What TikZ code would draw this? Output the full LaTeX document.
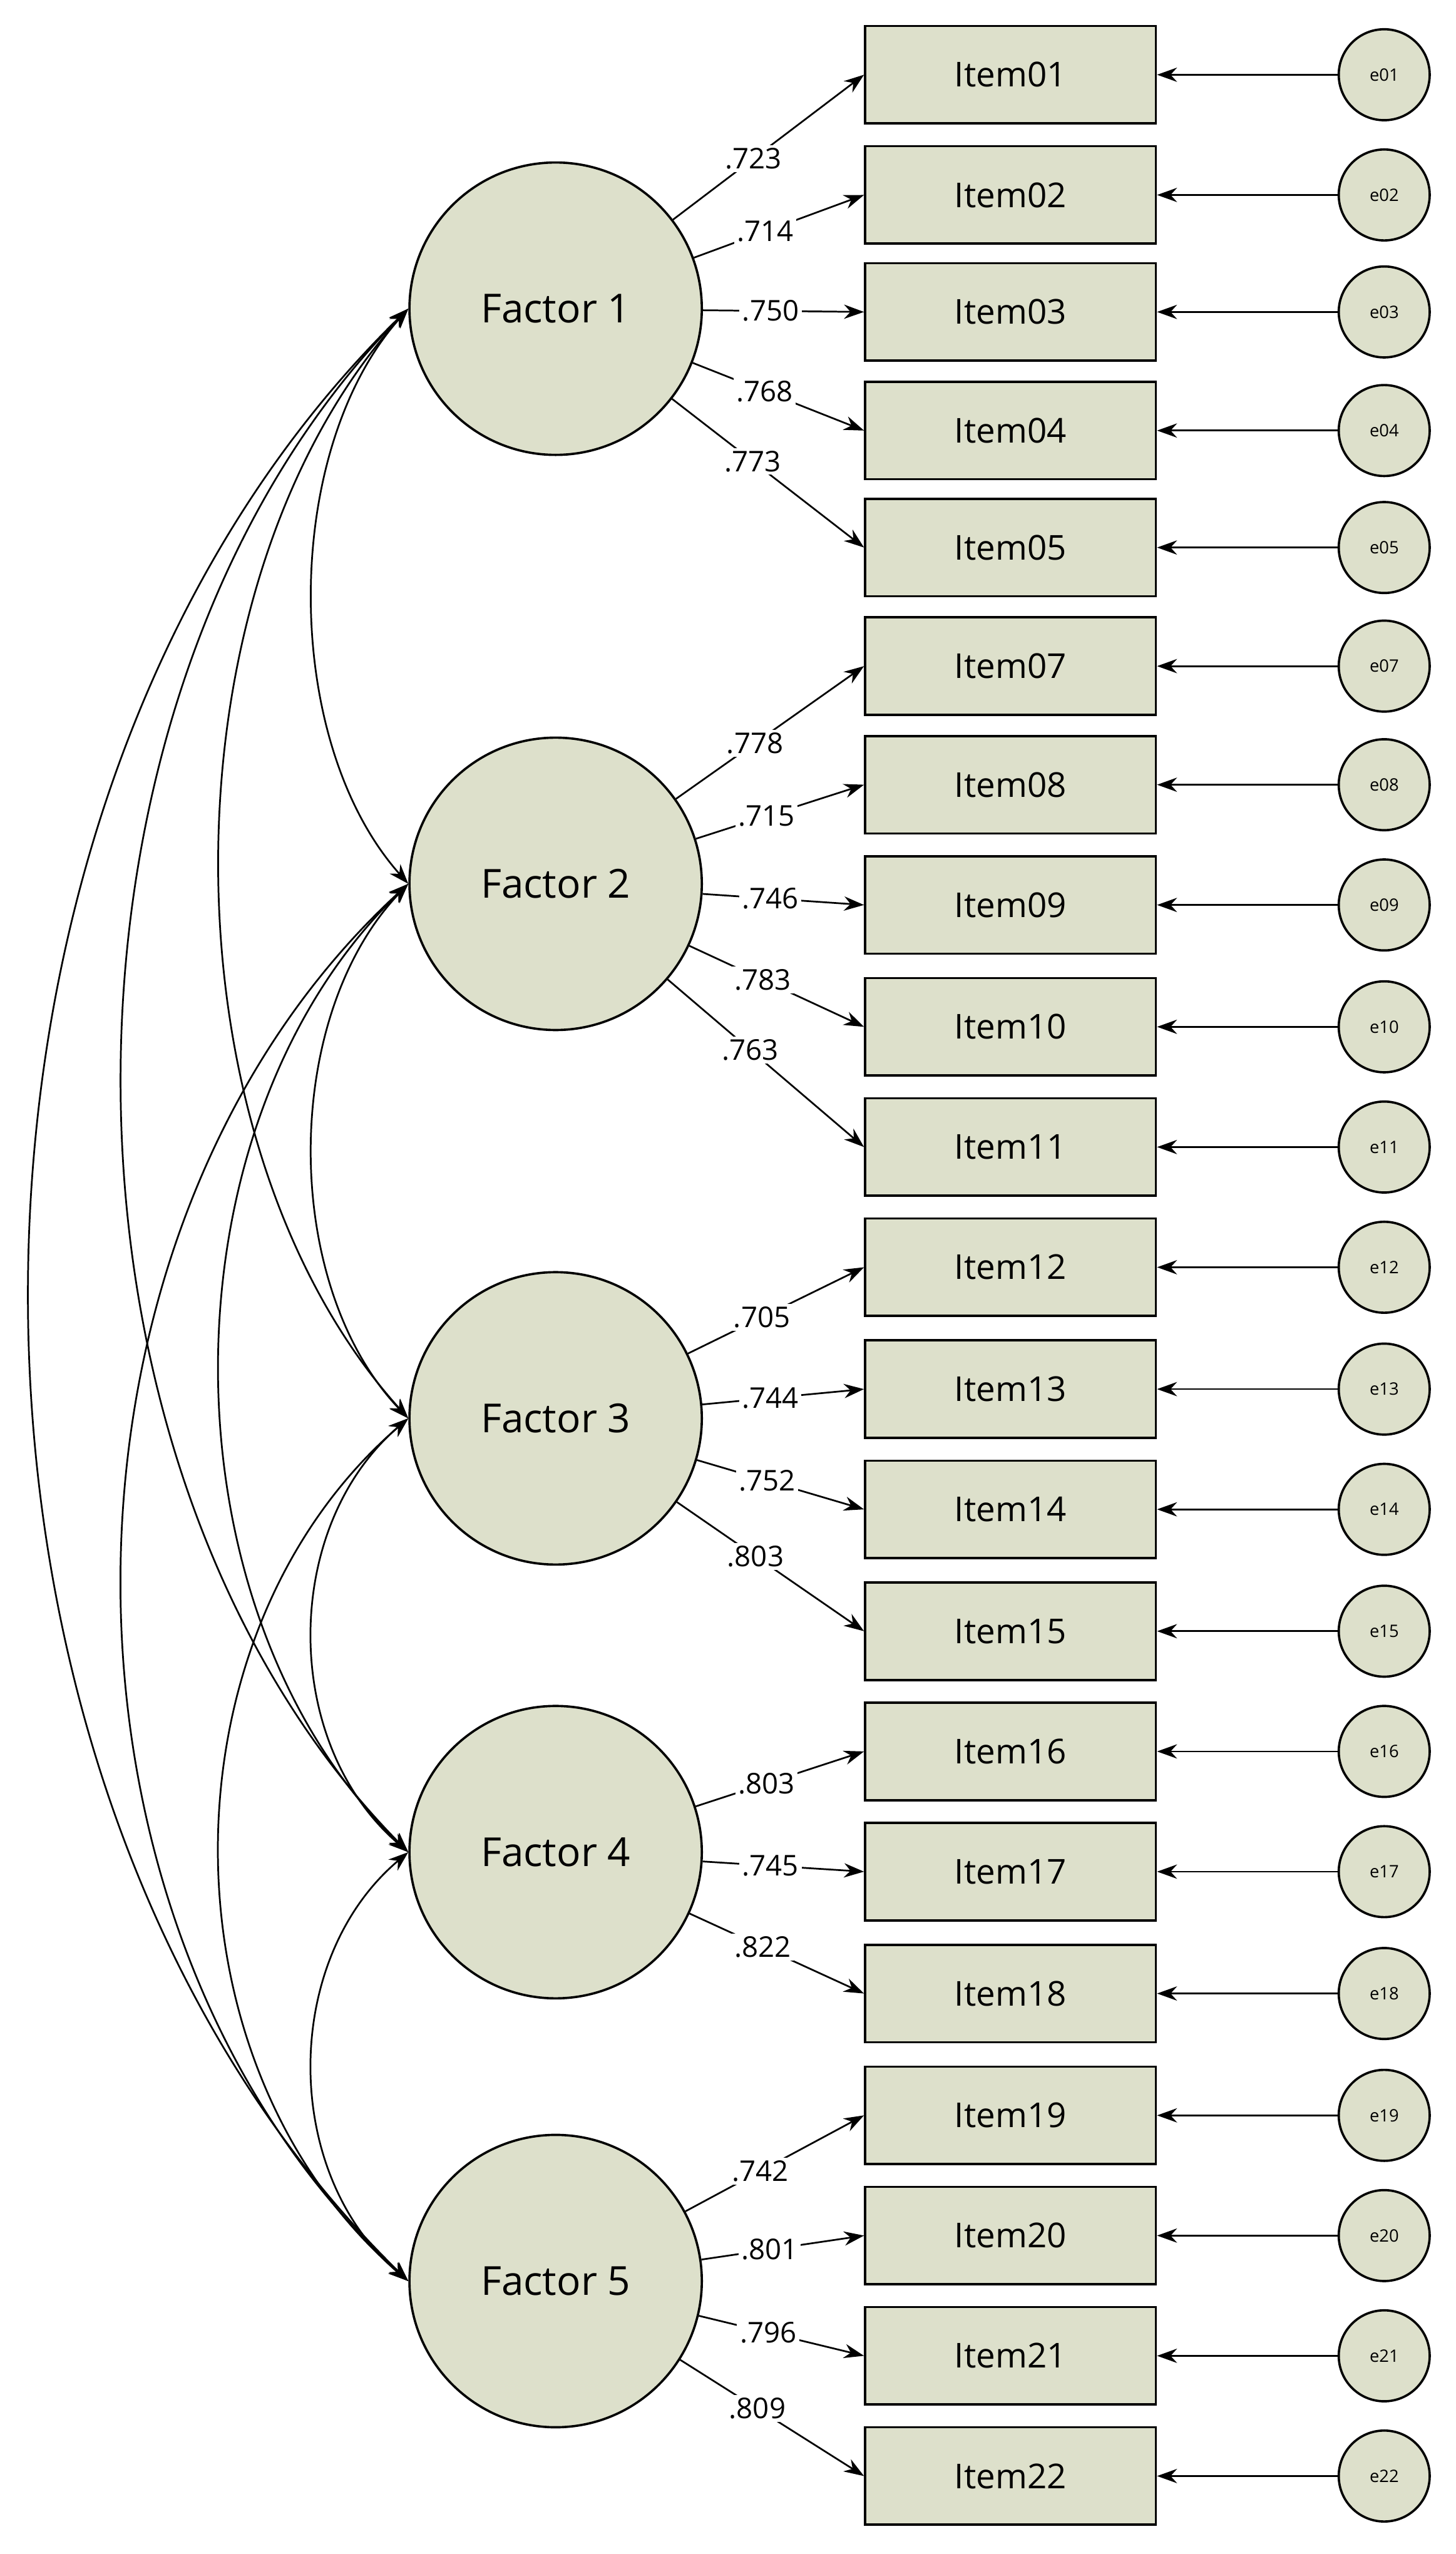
\documentclass[tikz,border=0pt]{standalone}
\usepackage{fontspec}
\setmainfont{Open Sans}
\usetikzlibrary{arrows.meta}
\definecolor{fillc}{RGB}{221,224,203}
\begin{document}
\begin{tikzpicture}[x=0.02cm,y=-0.02cm,
  every node/.style={inner sep=0pt},
  fac/.style={circle,draw,line width=0.8pt,fill=fillc,minimum size=3.6cm,font=\fontsize{14}{16}\selectfont},
  item/.style={rectangle,draw,line width=0.8pt,fill=fillc,minimum width=3.58cm,minimum height=1.2cm,font=\fontsize{12}{14}\selectfont},
  err/.style={circle,draw,line width=0.8pt,fill=fillc,minimum size=1.12cm,font=\fontsize{6}{7}\selectfont},
  arr/.style={-{Stealth[length=7pt,width=5pt]},line width=0.6pt},
  cov/.style={{Stealth[length=7pt,width=5pt]}-{Stealth[length=7pt,width=5pt]},line width=0.6pt},
  lab/.style={fill=white,inner sep=1pt,font=\fontsize{10}{12}\selectfont}]
\useasboundingbox (0,0) rectangle (896,1572);
\node[fac] (F1) at (342,190) {Factor 1};
\node[fac] (F2) at (342,544) {Factor 2};
\node[fac] (F3) at (342,873) {Factor 3};
\node[fac] (F4) at (342,1140) {Factor 4};
\node[fac] (F5) at (342,1404) {Factor 5};
\foreach \n/\y/\f/\l in {01/46/1/.723,02/120/1/.714,03/192/1/.750,04/265/1/.768,05/337/1/.773,
  07/410/2/.778,08/483/2/.715,09/557/2/.746,10/632/2/.783,11/706/2/.763,
  12/780/3/.705,13/855/3/.744,14/929/3/.752,15/1004/3/.803,
  16/1078/4/.803,17/1152/4/.745,18/1227/4/.822,
  19/1302/5/.742,20/1376/5/.801,21/1450/5/.796,22/1524/5/.809}{
  \node[item] (I\n) at (622,\y) {Item\n};
  \node[err] (e\n) at (852,\y) {e\n};
  \draw[arr] (e\n) -- (I\n);
  \draw[arr] (F\f) -- (I\n.west) node[lab,pos=0.42] {\l};
}
% covariances: a/b/control x/control y1/control y2
\foreach \a/\b/\c/\p/\q in {1/2/173/278/456,2/3/173/626/791,3/4/173/940/1073,4/5/173/1206/1338,
  1/3/97/361/702,2/4/97/693/991,3/5/97/1006/1271,
  1/4/17/428/902,2/5/17/759/1189,1/5/-59/493/1101}{
  \draw[cov] (F\a.west) .. controls (\c,\p) and (\c,\q) .. (F\b.west);
}
\end{tikzpicture}
\end{document}
